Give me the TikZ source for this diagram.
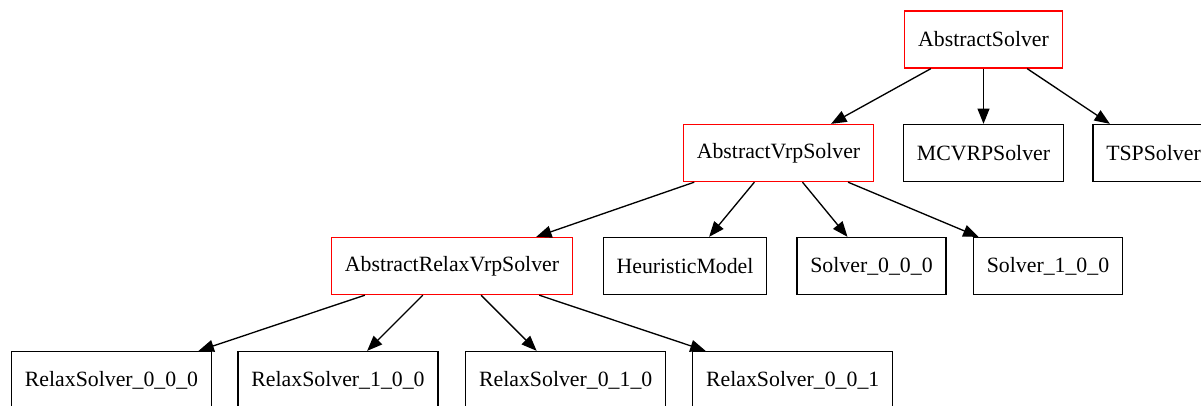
\documentclass[tikz,border=0pt]{standalone}
\usepackage{fontspec}
\setmainfont{Liberation Serif}
\usetikzlibrary{arrows.meta}

\begin{document}
\begin{tikzpicture}[x=0.75pt, y=-0.75pt,
  every node/.style={rectangle, draw, fill=white, line width=1pt, inner xsep=10pt, inner ysep=0pt, minimum height=42.75pt, font=\fontsize{16.35}{19}\selectfont},
  abscls/.style={draw=red},
  inh/.style={draw, line width=1pt, -{Triangle[length=11.5pt,width=9pt]}}
]
\useasboundingbox (0,0) rectangle (1201,405);
% Classes, one row per level
\node[abscls] (as) at (983.5,39.5) {AbstractSolver};
\node[abscls] (avrp) at (778.5,153) {AbstractVrpSolver};
\node (mcvrp) at (983.5,153) {MCVRPSolver};
\node (tsp) at (1153.5,153) {TSPSolver};
\node[abscls] (arvrp) at (452,266) {AbstractRelaxVrpSolver};
\node (heur) at (685,266) {HeuristicModel};
\node (s000) at (871.5,266) {Solver\_0\_0\_0};
\node (s100) at (1048,266) {Solver\_1\_0\_0};
\node (rs000) at (111.5,380) {RelaxSolver\_0\_0\_0};
\node (rs100) at (338,380) {RelaxSolver\_1\_0\_0};
\node (rs010) at (565.7,380) {RelaxSolver\_0\_1\_0};
\node (rs001) at (792.7,380) {RelaxSolver\_0\_0\_1};
% Inheritance arrows
\draw[inh] (as) -- (avrp);
\draw[inh] (as) -- (mcvrp);
\draw[inh] (as) -- (tsp);
\draw[inh] (avrp) -- (arvrp);
\draw[inh] (avrp) -- (heur);
\draw[inh] (avrp) -- (s000);
\draw[inh] (avrp) -- (s100);
\draw[inh] (arvrp) -- (rs000);
\draw[inh] (arvrp) -- (rs100);
\draw[inh] (arvrp) -- (rs010);
\draw[inh] (arvrp) -- (rs001);
\end{tikzpicture}
\end{document}
